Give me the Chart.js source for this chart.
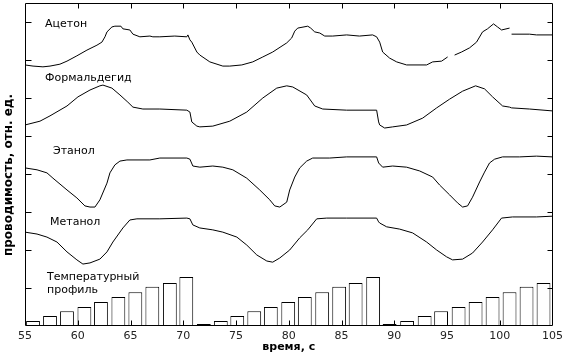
<!DOCTYPE html>
<html>
<head>
<meta charset="utf-8">
<script src="https://cdn.jsdelivr.net/npm/chart.js@4/dist/chart.umd.min.js"></script>
<style>
html,body{margin:0;padding:0;background:#fff;}
#c{display:block;}
</style>
</head>
<body>
<canvas id="c" width="567" height="359" style="width:567px;height:359px"></canvas>
<script>
// ---- data (time, s / conductivity, rel. units) ----
const xTicks = [55, 60, 65, 70, 75, 80, 85, 90, 95, 100, 105];
const yTickValues = [1, 2, 3, 4, 5, 6, 7, 8];

const acetoneT = [55.0,55.76,56.70,57.37,58.31,58.98,59.92,60.87,61.82,62.29,62.58,62.77,63.24,63.52,64.09,64.28,64.94,65.23,65.89,66.84,67.12,67.78,69.2,70.34,70.44,70.63,70.81,71.29,71.57,72.52,73.75,74.41,75.55,76.59,77.54,78.48,79.81,80.28,80.57,80.85,81.80,82.08,82.46,82.94,83.41,84.17,85.49,86.7,87.95,88.33,88.62,88.90,89.56,90.23,91.17,93.07,93.64,94.49,95.06,95.4,95.72,96.38,97.14,97.80,98.37,98.84,99.41,99.79,100.17,100.93,101.03,101.12,102.82,103.48,105.0];
const acetoneV = [6.87,6.84,6.82,6.84,6.89,6.97,7.11,7.26,7.39,7.47,7.61,7.74,7.87,7.89,7.89,7.82,7.79,7.68,7.61,7.63,7.61,7.61,7.63,7.61,7.66,7.53,7.47,7.21,7.13,6.95,6.84,6.84,6.87,6.95,7.08,7.21,7.45,7.58,7.76,7.84,7.89,7.84,7.74,7.71,7.63,7.63,7.66,7.63,7.66,7.61,7.47,7.21,7.05,6.95,6.87,6.87,6.95,6.97,7.08,null,7.13,7.21,7.32,7.47,7.74,7.82,7.95,7.87,7.79,7.84,null,7.68,7.68,7.66,7.66];

const formT = [55.0,56.42,57.37,58.98,60.02,61.16,62.10,62.39,63.24,64.0,64.75,65.23,66.17,67.78,70.34,70.63,70.81,71.29,71.57,72.80,74.41,76.02,77.54,78.86,79.81,80.38,81.70,82.46,83.22,85.49,88.33,88.52,88.62,89.09,89.85,91.17,92.69,94.02,95.25,96.48,97.71,98.56,99.32,100.27,100.93,101.12,102.82,105.0];
const formV = [5.29,5.39,5.53,5.79,6.03,6.21,6.32,6.34,6.26,6.08,5.89,5.76,5.71,5.71,5.68,5.63,5.37,5.26,5.24,5.26,5.39,5.63,6.0,6.26,6.32,6.29,6.08,5.79,5.71,5.68,5.68,5.37,5.29,5.21,5.24,5.29,5.47,5.74,5.97,6.18,6.32,6.24,6.03,5.79,5.76,5.74,5.71,5.66];

const ethT = [55.0,56.14,57.08,57.65,58.98,59.92,60.68,61.16,61.63,62.10,62.77,63.05,63.52,64.0,64.66,66.84,67.78,70.34,70.63,70.91,71.57,72.80,73.75,74.70,76.02,77.25,78.20,78.67,79.15,79.81,80.09,80.57,81.04,81.70,82.27,83.88,85.49,88.33,88.52,88.90,89.85,91.17,92.41,93.64,94.30,95.25,96.0,96.48,96.95,97.42,98.09,98.56,99.03,99.51,100.27,101.88,103.48,105.0];
const ethV = [4.16,4.11,4.03,3.89,3.58,3.37,3.16,3.13,3.13,3.32,3.76,4.03,4.24,4.34,4.37,4.37,4.42,4.42,4.39,4.21,4.18,4.21,4.18,4.11,3.89,3.58,3.32,3.16,3.13,3.26,3.58,3.92,4.16,4.34,4.42,4.42,4.45,4.45,4.29,4.18,4.21,4.18,4.08,3.92,3.71,3.45,3.24,3.13,3.16,3.39,3.79,4.05,4.29,4.39,4.45,4.45,4.47,4.45];

const methT = [55.0,56.14,57.08,58.03,58.98,59.92,60.49,61.16,62.10,62.77,63.33,64.28,64.94,65.61,67.78,70.34,70.63,70.91,71.57,72.80,73.75,75.08,76.02,76.97,77.92,78.48,79.15,80.09,81.04,81.80,82.65,83.60,85.49,88.33,88.52,88.62,89.28,90.51,91.74,93.07,94.02,94.96,95.53,96.48,97.42,98.37,99.32,100.17,101.21,103.48,105.0];
const methV = [2.47,2.42,2.34,2.21,1.95,1.74,1.63,1.66,1.76,1.95,2.21,2.58,2.79,2.82,2.82,2.84,2.82,2.66,2.58,2.53,2.47,2.34,2.13,1.87,1.71,1.68,1.79,2.0,2.32,2.53,2.82,2.84,2.84,2.84,2.74,2.71,2.61,2.55,2.45,2.21,2.0,1.82,1.74,1.76,1.92,2.21,2.53,2.84,2.87,2.87,2.89];

const tempT = [55.76,57.37,58.98,60.63,62.20,63.85,65.46,67.07,68.73,70.29,71.95,73.56,75.12,76.73,78.30,79.95,81.52,83.17,84.78,86.34,88.00,89.56,91.22,92.88,94.44,96.10,97.71,99.32,100.93,102.54,104.15];
const tempV = [0.13,0.26,0.39,0.50,0.63,0.76,0.89,1.03,1.13,1.29,0.05,0.13,0.26,0.39,0.50,0.63,0.76,0.89,1.03,1.13,1.29,0.05,0.13,0.26,0.39,0.50,0.63,0.76,0.89,1.03,1.13];

const seriesLabels = ['Ацетон', 'Формальдегид', 'Этанол', 'Метанол'];
const tempLabel = ['Температурный', 'профиль'];

// ---- build ----
const pts = (t, v) => t.map((x, i) => ({x: x, y: v[i]}));
const lineDs = (label, t, v) => ({
  type: 'line', label: label, data: pts(t, v),
  borderColor: '#000', borderWidth: 1, pointRadius: 0, tension: 0, spanGaps: false, fill: false
});

const frameTicks = {
  id: 'frameTicks',
  afterDraw(chart) {
    const {ctx, chartArea: a, scales: {x, y}} = chart;
    ctx.save();
    ctx.strokeStyle = '#000';
    ctx.lineWidth = 1;
    const L = Math.round(a.left) + 0.5, R = Math.round(a.right) - 0.5;
    const T = Math.round(a.top) + 0.5, B = Math.round(a.bottom) - 0.5;
    ctx.beginPath();
    ctx.rect(L, T, R - L, B - T);
    xTicks.slice(1, -1).forEach(v => {
      const px = Math.round(x.getPixelForValue(v)) + 0.5;
      ctx.moveTo(px, T); ctx.lineTo(px, T + 5);
      ctx.moveTo(px, B); ctx.lineTo(px, B - 5);
    });
    yTickValues.forEach(v => {
      const py = Math.round(y.getPixelForValue(v)) + 0.5;
      ctx.moveTo(L, py); ctx.lineTo(L + 6, py);
      ctx.moveTo(R, py); ctx.lineTo(R - 5, py);
    });
    ctx.stroke();
    ctx.restore();
  }
};

const annot = {
  id: 'annot',
  afterDraw(chart) {
    const ctx = chart.ctx;
    ctx.save();
    ctx.fillStyle = '#000';
    ctx.font = '11px "DejaVu Sans"';
    ctx.textBaseline = 'alphabetic';
    ctx.textAlign = 'left';
    ctx.fillText(seriesLabels[0], 45, 27);
    ctx.fillText(seriesLabels[1], 45, 81);
    ctx.fillText(seriesLabels[2], 53, 154);
    ctx.fillText(seriesLabels[3], 50, 225);
    ctx.fillText(tempLabel[0], 47, 280);
    ctx.fillText(tempLabel[1], 47, 293);
    ctx.restore();
  }
};

new Chart(document.getElementById('c'), {
  type: 'line',
  data: {
    datasets: [
      lineDs(seriesLabels[0], acetoneT, acetoneV),
      lineDs(seriesLabels[1], formT, formV),
      lineDs(seriesLabels[2], ethT, ethV),
      lineDs(seriesLabels[3], methT, methV),
      {
        type: 'bar', label: 'Температурный профиль', data: pts(tempT, tempV),
        backgroundColor: '#fff', borderColor: '#000', borderWidth: 1,
        barPercentage: 0.84, categoryPercentage: 1, borderSkipped: 'bottom'
      }
    ]
  },
  options: {
    animation: false, responsive: false, devicePixelRatio: 1,
    layout: {padding: {top: 3, right: 14, left: 0, bottom: 0}},
    plugins: {legend: {display: false}, tooltip: {enabled: false}},
    scales: {
      x: {
        type: 'linear', min: 55, max: 105, offset: false,
        afterBuildTicks(s) { s.ticks = xTicks.map(v => ({value: v})); },
        afterFit(s) { s.height = 33; },
        ticks: {color: '#222', font: {family: '"DejaVu Sans"', size: 11}, padding: 4, maxRotation: 0, autoSkip: false},
        grid: {display: false, drawTicks: false},
        border: {display: false},
        title: {display: true, text: 'время, с', color: '#000',
          font: {family: '"DejaVu Sans"', size: 11, weight: 'bold'}, padding: {top: 0, bottom: 5}}
      },
      y: {
        type: 'linear', min: 0, max: 8.5,
        afterFit(s) { s.width = 25; },
        ticks: {display: false},
        grid: {display: false, drawTicks: false},
        border: {display: false},
        title: {display: true, text: 'проводимость, отн. ед.     ', color: '#000',
          font: {family: '"DejaVu Sans"', size: 12, weight: 'bold'}, padding: {top: 2, bottom: 0}}
      }
    }
  },
  plugins: [frameTicks, annot]
});
</script>
</body>
</html>
